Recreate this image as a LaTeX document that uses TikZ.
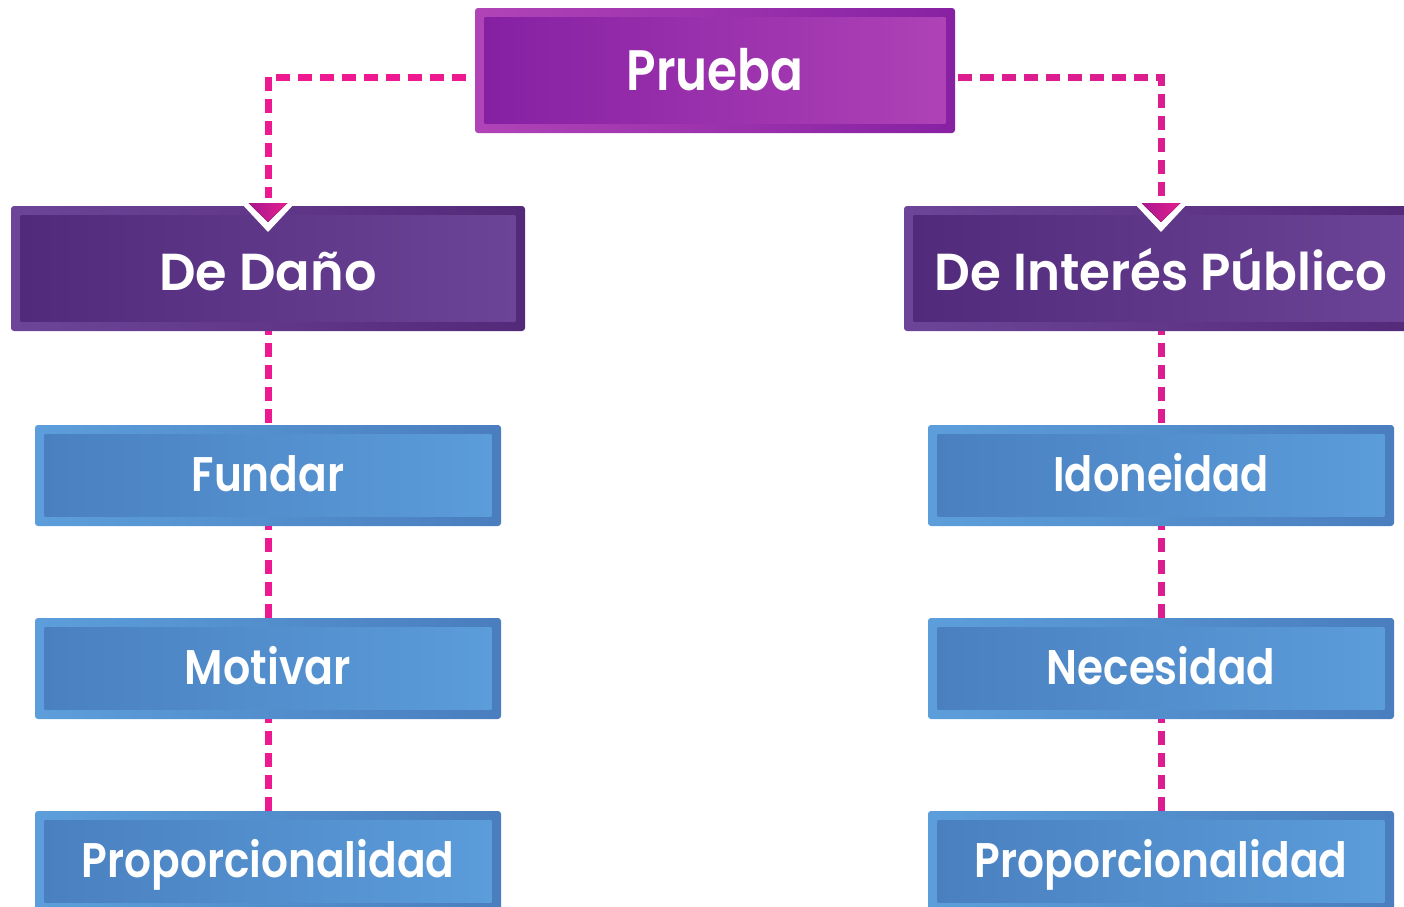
\documentclass[tikz,border=0pt]{standalone}
\usepackage{graphicx}
\usepackage{fontspec}
\setmainfont{Poppins}
\newfontfamily\semib{Poppins SemiBold}
\definecolor{prOL}{HTML}{B044B7}
\definecolor{prOR}{HTML}{8721A3}
\definecolor{prIL}{HTML}{8620A3}
\definecolor{prIR}{HTML}{AE42B6}
\definecolor{puOL}{HTML}{6D4598}
\definecolor{puOR}{HTML}{53297A}
\definecolor{puIL}{HTML}{522A7B}
\definecolor{puIR}{HTML}{6C4497}
\definecolor{blOL}{HTML}{5C9EDB}
\definecolor{blOR}{HTML}{4A7EBE}
\definecolor{blIL}{HTML}{4A80C0}
\definecolor{blIR}{HTML}{5B9CDA}
\definecolor{pinkL}{HTML}{EE1891}
\definecolor{pinkR}{HTML}{DC1D8F}
\definecolor{arL}{HTML}{A8178F}
\definecolor{arR}{HTML}{E41F8E}
\tikzset{
  outerbox/.style={inner sep=0pt, rounded corners=1.5pt, draw=none},
  lbl/.style={anchor=base, text=white, inner sep=0pt},
  conn/.style={line width=3.5pt, dash pattern=on 7pt off 4pt},
}
\newcommand\blockbox[9]{%
  \node[outerbox, minimum width=#4, minimum height=#5, left color=#6OL, right color=#6OR] (#1) at (#2,#3) {};
  \path[left color=#6IL, right color=#6IR] ([shift={(5pt,-5pt)}]#1.north west) rectangle ([shift={(-5pt,5pt)}]#1.south east);
  \node[lbl, font=\fontsize{#7}{#7}\selectfont\semib] (#1T) at (#2,#8) {#9};}
\newcommand\arrowhd[1]{%
  \fill[white] (#1-27,203) -- (#1+27,203) -- (#1,232) -- cycle;
  \fill[left color=arL, right color=arR] (#1-19.5,203) -- (#1+19.5,203) -- (#1,222) -- cycle;}
\begin{document}
\begin{tikzpicture}[x=0.5pt,y=-0.5pt]
\clip (0,0) rectangle (1404,906);
\fill[white] (0,0) rectangle (1404,906);
% boxes
\blockbox{prueba}{715}{70.5}{240pt}{62.5pt}{pr}{28.5}{90}{\scalebox{0.85}[1]{Prueba}}
\blockbox{dano}{268}{268.5}{257pt}{62.5pt}{pu}{26}{290.5}{\scalebox{0.98}[1]{De Daño}}
\blockbox{interes}{1161}{268.5}{257pt}{62.5pt}{pu}{26}{290.5}{\scalebox{0.96}[1]{De Interés Público}}
\blockbox{fundar}{268}{475.5}{233pt}{50.5pt}{bl}{24.3}{491.5}{\scalebox{0.87}[1]{Fundar}}
\blockbox{motivar}{268}{668.5}{233pt}{50.5pt}{bl}{24.3}{684.5}{\scalebox{0.88}[1]{Motivar}}
\blockbox{propL}{268}{861.5}{233pt}{50.5pt}{bl}{24.3}{877.5}{\scalebox{0.87}[1]{Proporcionalidad}}
\blockbox{idoneidad}{1161}{475.5}{233pt}{50.5pt}{bl}{24.3}{491.5}{\scalebox{0.855}[1]{Idoneidad}}
\blockbox{necesidad}{1161}{668.5}{233pt}{50.5pt}{bl}{24.3}{684.5}{\scalebox{0.865}[1]{Necesidad}}
\blockbox{propR}{1161}{861.5}{233pt}{50.5pt}{bl}{24.3}{877.5}{\scalebox{0.87}[1]{Proporcionalidad}}
% connectors
\coordinate (cL) at (268,198);
\coordinate (cR) at (1161,198);
\draw[conn, pinkL] ([xshift=-4.5pt, yshift=-3.25pt]prueba.west) -| (cL);
\draw[conn, pinkR] ([xshift=1.5pt, yshift=-3.25pt]prueba.east) -| (cR);
\arrowhd{268}
\arrowhd{1161}
\draw[conn, pinkL, dash phase=5pt] (dano.south) -- (fundar.north);
\draw[conn, pinkL, dash phase=5pt] (fundar.south) -- (motivar.north);
\draw[conn, pinkL, dash phase=5pt] (motivar.south) -- (propL.north);
\draw[conn, pinkR, dash phase=5pt] (interes.south) -- (idoneidad.north);
\draw[conn, pinkR, dash phase=5pt] (idoneidad.south) -- (necesidad.north);
\draw[conn, pinkR, dash phase=5pt] (necesidad.south) -- (propR.north);
\end{tikzpicture}
\end{document}
